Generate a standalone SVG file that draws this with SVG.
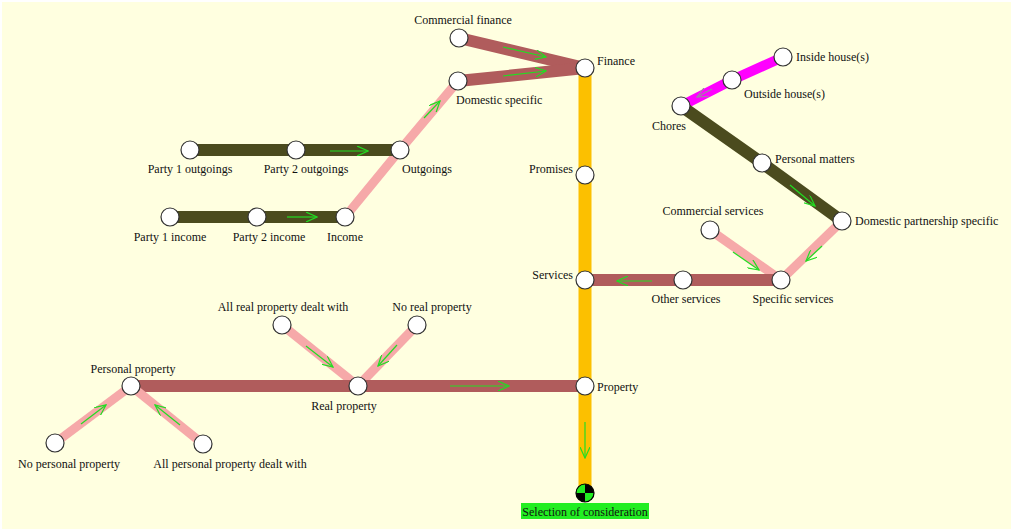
<svg xmlns="http://www.w3.org/2000/svg" width="1011" height="529" viewBox="0 0 1011 529">
  <defs>
    <marker id="head" viewBox="0 0 12 10" refX="11" refY="5" markerWidth="12" markerHeight="10" markerUnits="userSpaceOnUse" orient="auto">
      <path d="M0,0 L11,5 L0,10" fill="none" stroke="#22dd22" stroke-width="1.2"/>
    </marker>
    <marker id="headGrey" viewBox="0 0 12 10" refX="11" refY="5" markerWidth="12" markerHeight="10" markerUnits="userSpaceOnUse" orient="auto">
      <path d="M0,0 L11,5 L0,10" fill="none" stroke="#9a8aa0" stroke-width="1.2"/>
    </marker>
  </defs>
  <style>
    text { font-family: "Liberation Serif", "Times New Roman", serif; font-size: 12px; fill: #111; }
    .mid { text-anchor: middle; }
    .end { text-anchor: end; }
    .node { fill: #ffffff; stroke: #333333; stroke-width: 1.2; }
    .trunk { stroke: #fcc000; stroke-width: 13; fill: none; }
    .brown { stroke: #b05c5c; stroke-width: 12; fill: none; }
    .pink { stroke: #f6a9a9; stroke-width: 9; fill: none; }
    .olive { stroke: #4b4b1e; stroke-width: 12; fill: none; }
    .magenta { stroke: #ff00ff; stroke-width: 10; fill: none; }
    .flow { stroke: #22dd22; stroke-width: 1.2; fill: none; marker-end: url(#head); }
    .flowGrey { stroke: #9a8aa0; stroke-width: 1.2; fill: none; marker-end: url(#headGrey); }
  </style>

  <!-- canvas -->
  <rect x="0" y="0" width="1011" height="529" fill="#ffffff"/>
  <rect x="2" y="2" width="1009" height="527" fill="#ffffe0"/>

  <!-- connectors -->
  <g id="connectors">
    <line class="trunk" x1="585" y1="68" x2="585" y2="493"/>
    <line class="brown" x1="459" y1="38" x2="585" y2="68"/>
    <line class="brown" x1="458" y1="81" x2="585" y2="68"/>
    <polyline class="pink" points="345,217 400,150 458,81"/>
    <polyline class="olive" points="190,150 296,150 400,150"/>
    <polyline class="olive" points="170,217 257,217 345,217"/>
    <polyline class="magenta" points="783,57 732,80 681,106"/>
    <polyline class="olive" points="681,106 762,163 842,221"/>
    <line class="pink" x1="842" y1="221" x2="781" y2="280"/>
    <line class="pink" x1="710" y1="230" x2="781" y2="280"/>
    <polyline class="brown" points="781,280 683,280 585,280"/>
    <line class="pink" x1="282" y1="325" x2="358" y2="386"/>
    <line class="pink" x1="417" y1="325" x2="358" y2="386"/>
    <polyline class="brown" points="131,386 358,386 585,386"/>
    <line class="pink" x1="55" y1="443" x2="131" y2="386"/>
    <line class="pink" x1="203" y1="444" x2="131" y2="386"/>

    <!-- direction arrows -->
    <line class="flow" x1="503" y1="47" x2="546" y2="57"/>
    <line class="flow" x1="503" y1="76" x2="546" y2="71"/>
    <line class="flow" x1="424" y1="118" x2="440" y2="101"/>
    <line class="flow" x1="330" y1="151" x2="368" y2="151"/>
    <line class="flow" x1="287" y1="217" x2="317" y2="217"/>
    <line class="flowGrey" x1="712" y1="89" x2="697" y2="97"/>
    <line class="flow" x1="790" y1="185" x2="815" y2="206"/>
    <line class="flow" x1="822" y1="246" x2="806" y2="261"/>
    <line class="flow" x1="733" y1="252" x2="759" y2="270"/>
    <line class="flow" x1="652" y1="281" x2="617" y2="281"/>
    <line class="flow" x1="306" y1="346" x2="333" y2="367"/>
    <line class="flow" x1="397" y1="345" x2="378" y2="366"/>
    <line class="flow" x1="450" y1="386" x2="509" y2="386"/>
    <line class="flow" x1="81" y1="424" x2="106" y2="405"/>
    <line class="flow" x1="180" y1="425" x2="155" y2="405"/>
    <line class="flow" x1="585" y1="422" x2="585" y2="458"/>
  </g>

  <!-- stations -->
  <g id="n-commercial-finance"><circle class="node" cx="459" cy="38" r="9"/><text class="mid" x="463" y="24">Commercial finance</text></g>
  <g id="n-finance"><circle class="node" cx="585" cy="68" r="9"/><text x="597" y="65">Finance</text></g>
  <g id="n-domestic-specific"><circle class="node" cx="458" cy="81" r="9"/><text x="456" y="104">Domestic specific</text></g>
  <g id="n-promises"><circle class="node" cx="585" cy="175" r="9"/><text class="end" x="573" y="173">Promises</text></g>
  <g id="n-services"><circle class="node" cx="585" cy="280" r="9"/><text class="end" x="573" y="279">Services</text></g>
  <g id="n-property"><circle class="node" cx="585" cy="386" r="9"/><text x="597" y="391">Property</text></g>
  <g id="n-selection">
    <circle cx="585" cy="493" r="9" fill="#000000"/>
    <path d="M585,493 L576,493 A9,9 0 0 1 585,484 Z" fill="#22ee22"/>
    <path d="M585,493 L594,493 A9,9 0 0 1 585,502 Z" fill="#22ee22"/>
    <circle cx="585" cy="493" r="9" fill="none" stroke="#000" stroke-width="1.2"/>
    <rect x="521" y="503" width="128" height="16" fill="#22ee22"/>
    <text class="mid" x="585" y="516">Selection of consideration</text>
  </g>

  <g id="n-party1-outgoings"><circle class="node" cx="190" cy="150" r="9"/><text class="mid" x="190" y="173">Party 1 outgoings</text></g>
  <g id="n-party2-outgoings"><circle class="node" cx="296" cy="150" r="9"/><text class="mid" x="306" y="173">Party 2 outgoings</text></g>
  <g id="n-outgoings"><circle class="node" cx="400" cy="150" r="9"/><text class="mid" x="427" y="173">Outgoings</text></g>
  <g id="n-party1-income"><circle class="node" cx="170" cy="217" r="9"/><text class="mid" x="170" y="241">Party 1 income</text></g>
  <g id="n-party2-income"><circle class="node" cx="257" cy="217" r="9"/><text class="mid" x="269" y="241">Party 2 income</text></g>
  <g id="n-income"><circle class="node" cx="345" cy="217" r="9"/><text class="mid" x="345" y="241">Income</text></g>

  <g id="n-inside-house"><circle class="node" cx="783" cy="57" r="9"/><text x="796" y="61">Inside house(s)</text></g>
  <g id="n-outside-house"><circle class="node" cx="732" cy="80" r="9"/><text x="744" y="98">Outside house(s)</text></g>
  <g id="n-chores"><circle class="node" cx="681" cy="106" r="9"/><text class="mid" x="669" y="130">Chores</text></g>
  <g id="n-personal-matters"><circle class="node" cx="762" cy="163" r="9"/><text x="775" y="163">Personal matters</text></g>
  <g id="n-domestic-partnership"><circle class="node" cx="842" cy="221" r="9"/><text x="855" y="225">Domestic partnership specific</text></g>
  <g id="n-commercial-services"><circle class="node" cx="710" cy="230" r="9"/><text class="mid" x="713" y="215">Commercial services</text></g>
  <g id="n-other-services"><circle class="node" cx="683" cy="280" r="9"/><text class="mid" x="686" y="303">Other services</text></g>
  <g id="n-specific-services"><circle class="node" cx="781" cy="280" r="9"/><text class="mid" x="793" y="303">Specific services</text></g>

  <g id="n-all-real"><circle class="node" cx="282" cy="325" r="9"/><text class="mid" x="283" y="311">All real property dealt with</text></g>
  <g id="n-no-real"><circle class="node" cx="417" cy="325" r="9"/><text class="mid" x="432" y="311">No real property</text></g>
  <g id="n-real-property"><circle class="node" cx="358" cy="386" r="9"/><text class="mid" x="344" y="410">Real property</text></g>
  <g id="n-personal-property"><circle class="node" cx="131" cy="386" r="9"/><text class="mid" x="133" y="373">Personal property</text></g>
  <g id="n-no-personal"><circle class="node" cx="55" cy="443" r="9"/><text class="mid" x="69" y="468">No personal property</text></g>
  <g id="n-all-personal"><circle class="node" cx="203" cy="444" r="9"/><text class="mid" x="230" y="468">All personal property dealt with</text></g>
</svg>
